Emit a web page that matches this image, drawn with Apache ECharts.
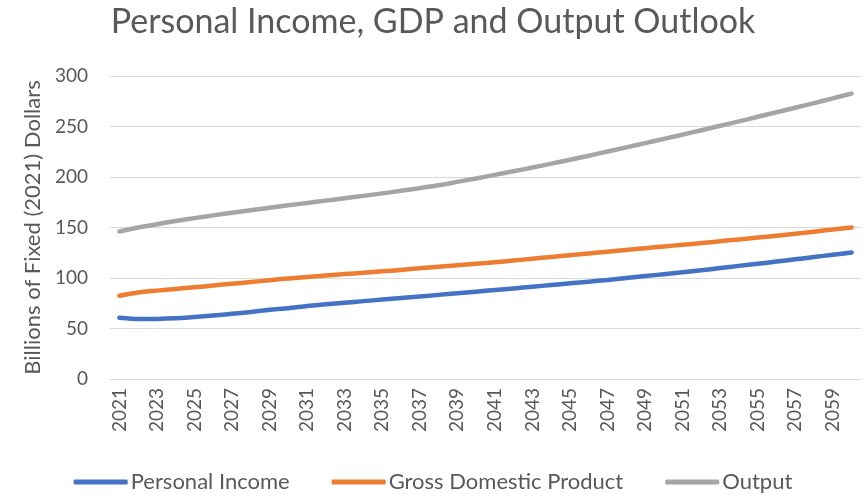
<!DOCTYPE html>
<html>
<head>
<meta charset="utf-8">
<script src="https://cdn.jsdelivr.net/npm/echarts@6/dist/echarts.min.js"></script>
<style>
html,body{margin:0;padding:0;background:#fff;}
#c{width:866px;height:494px;}
</style>
</head>
<body>
<div id="c"></div>
<script>
const years = [];
for (let y = 2021; y <= 2060; y++) years.push(String(y));

const personalIncome = [60.7,59.3,59.5,60.2,61.3,62.8,64.5,66.3,68.5,70.0,
  72.3,74.0,75.6,77.1,78.6,80.1,81.7,83.3,84.9,86.5,
  88.1,89.7,91.4,93.0,94.7,96.3,98.1,100.0,101.9,103.8,
  105.7,107.6,109.8,112.0,114.1,116.3,118.5,120.8,123.0,125.2];

const gdp = [82.5,85.6,87.5,89.2,90.8,92.6,94.3,96.0,97.8,99.5,
  101.1,102.5,103.9,105.2,106.6,108.0,109.6,111.1,112.6,114.1,
  115.6,117.3,119.1,120.8,122.6,124.3,126.1,127.8,129.5,131.2,
  132.9,134.6,136.4,138.2,140.0,141.8,143.9,145.9,148.0,150.0];

const output = [146.0,150.0,153.3,156.4,159.3,162.0,164.6,167.1,169.6,172.0,
  174.3,176.6,178.9,181.3,183.8,186.3,189.0,191.8,195.2,198.6,
  202.1,205.7,209.4,213.2,217.1,221.1,225.2,229.3,233.5,237.7,
  242.0,246.3,250.7,255.1,259.6,264.1,268.6,273.2,277.9,282.6];

const seriesNames = ['Personal Income','Gross Domestic Product','Output'];
const colors = ['#4472C4','#ED7D31','#A5A5A5'];
const yTicks = {min:0, max:300, interval:50};

const font = 'Lato, "Open Sans", sans-serif';
const chart = echarts.init(document.getElementById('c'), null, {renderer:'canvas'});
const mk = (name, data, color) => ({
  name, type:'line', data, symbol:'none', smooth:0.2,
  lineStyle:{color, width:4.5, cap:'round', join:'round'},
  itemStyle:{color},
  emphasis:{disabled:true}
});
chart.setOption({
  animation:false,
  backgroundColor:'#fff',
  title:{
    text:'Personal Income, GDP and Output Outlook',
    left:'center', top:0,
    textStyle:{fontFamily:font, fontSize:34, fontWeight:'normal', color:'#595959'}
  },
  legend:{
    bottom:-4, left:'center',
    itemWidth:54, itemHeight:5, itemGap:42,
    icon:'roundRect',
    textStyle:{fontFamily:font, fontSize:22, color:'#595959', padding:[0,0,0,-2]},
    data:seriesNames
  },
  grid:{left:110, right:5, top:76, bottom:115, containLabel:false},
  xAxis:{
    type:'category', data:years, boundaryGap:true,
    axisLine:{lineStyle:{color:'#d9d9d9', width:1}},
    axisTick:{show:false},
    axisLabel:{interval:1, rotate:90, fontFamily:font, fontSize:19, color:'#595959', margin:9}
  },
  yAxis:{
    type:'value', min:yTicks.min, max:yTicks.max, interval:yTicks.interval,
    name:'Billions of Fixed (2021) Dollars',
    nameLocation:'middle', nameGap:66, nameRotate:90,
    nameTextStyle:{fontFamily:font, fontSize:22, color:'#595959'},
    axisLine:{show:false}, axisTick:{show:false},
    axisLabel:{fontFamily:font, fontSize:19, color:'#595959', margin:22},
    splitLine:{lineStyle:{color:'#d9d9d9', width:1.2}}
  },
  series:[
    mk(seriesNames[0], personalIncome, colors[0]),
    mk(seriesNames[1], gdp, colors[1]),
    mk(seriesNames[2], output, colors[2])
  ]
});
</script>
</body>
</html>
